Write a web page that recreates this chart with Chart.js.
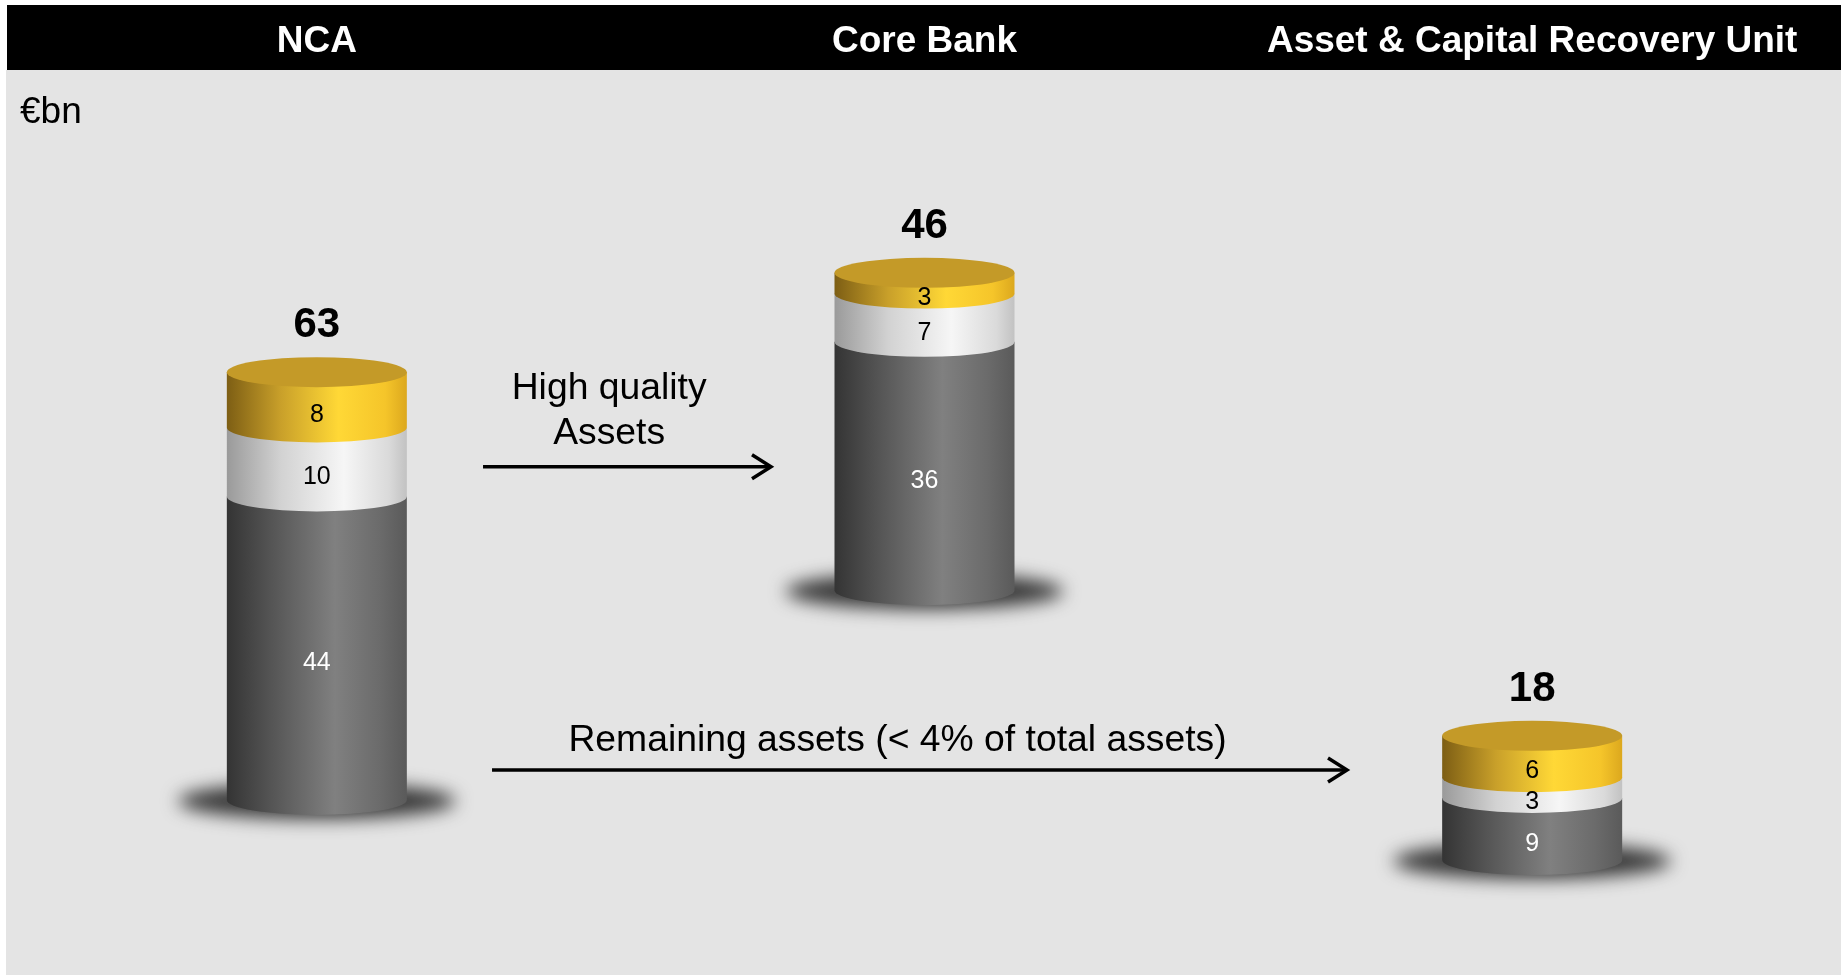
<!DOCTYPE html>
<html>
<head>
<meta charset="utf-8">
<title>NCA split</title>
<script src="https://cdn.jsdelivr.net/npm/chart.js@4.4.1/dist/chart.umd.min.js"></script>
<style>
  html, body { margin: 0; padding: 0; background: #fff; }
  canvas { display: block; }
</style>
</head>
<body>
<canvas id="splitChart" width="1841" height="975"></canvas>
<script>
// €bn per unit
const categories = ['NCA', 'Core Bank', 'Asset & Capital Recovery Unit'];
const greyAssets = [44, 36, 9];
const lightAssets = [10, 7, 3];
const goldAssets = [8, 3, 6];
const totals = [63, 46, 18];
// level each cylinder stands on (kept above zero so floating bars don't cross it)
const baseLevel = [20, 50.4, 11.3];

const FONT = "'Liberation Sans', Arial, sans-serif";
const RY = 15; // ellipse half-height of the cylinder faces

// flow arrows between the units: x in category index, y on the value scale
const flows = [
  { x0: 0.2735, x1: 0.7474, y: 68.3, textX: 0.481, lines: [['High quality', 78.1], ['Assets', 71.6]] },
  { x0: 0.2883, x1: 1.6953, y: 24.35, textX: 0.9556, lines: [['Remaining assets (< 4% of total assets)', 27.1]] }
];

const series = [
  { label: 'grey', values: greyAssets, text: '#ffffff',
    stops: [[0, '#343434'], [0.25, '#555555'], [0.6, '#808080'], [0.85, '#6b6b6b'], [1, '#5a5a5a']] },
  { label: 'light', values: lightAssets, text: '#000000',
    stops: [[0, '#9a9a9a'], [0.3, '#d2d2d2'], [0.65, '#f6f6f6'], [0.9, '#dadada'], [1, '#c2c2c2']] },
  { label: 'gold', values: goldAssets, text: '#000000',
    stops: [[0, '#7d5e14'], [0.3, '#c9a02a'], [0.62, '#ffd836'], [0.88, '#f5c52a'], [1, '#dca81e']] }
];

// stack the segments by hand as floating bars
const datasets = series.map((s, k) => ({
  label: s.label,
  data: s.values.map((v, i) => {
    let start = baseLevel[i];
    for (let j = 0; j < k; j++) start += series[j].values[i];
    return [start, start + v];
  }),
  backgroundColor: 'rgba(0,0,0,0)',
  borderWidth: 0,
  barThickness: 180,
  grouped: false
}));

const backdrop = {
  id: 'backdrop',
  beforeDraw(chart) {
    const ctx = chart.ctx;
    const x = chart.scales.x;
    ctx.save();
    ctx.fillStyle = '#ffffff';
    ctx.fillRect(0, 0, chart.width, chart.height);
    ctx.fillStyle = '#e4e4e4';
    ctx.fillRect(6, 70, chart.width - 6, chart.height - 70);
    ctx.fillStyle = '#000000';
    ctx.fillRect(7, 5, chart.width - 7, 65);

    ctx.fillStyle = '#ffffff';
    ctx.font = 'bold 37px ' + FONT;
    ctx.textAlign = 'center';
    ctx.textBaseline = 'alphabetic';
    chart.data.labels.forEach((lab, i) => ctx.fillText(lab, x.getPixelForValue(i), 52));

    ctx.fillStyle = '#000000';
    ctx.font = '37px ' + FONT;
    ctx.textAlign = 'left';
    ctx.fillText('€bn', 20, 123);
    ctx.restore();
  }
};

const cylinders = {
  id: 'cylinders',
  beforeDatasetsDraw(chart) {
    const ctx = chart.ctx;
    const metas = chart.data.datasets.map((d, k) => chart.getDatasetMeta(k));
    ctx.save();
    // soft shadow under each cylinder
    metas[0].data.forEach(el => {
      const b = el.getProps(['x', 'base', 'width'], true);
      ctx.save();
      ctx.filter = 'blur(9px)';
      ctx.fillStyle = 'rgba(45,45,45,0.95)';
      ctx.beginPath();
      ctx.ellipse(b.x, b.base + 1, b.width * 0.77, 18, 0, 0, Math.PI * 2);
      ctx.fill();
      ctx.restore();
    });
    // body segments, bottom to top
    metas.forEach((meta, k) => {
      meta.data.forEach(el => {
        const b = el.getProps(['x', 'y', 'base', 'width'], true);
        const left = b.x - b.width / 2, right = b.x + b.width / 2;
        const g = ctx.createLinearGradient(left, 0, right, 0);
        series[k].stops.forEach(([o, c]) => g.addColorStop(o, c));
        ctx.beginPath();
        ctx.moveTo(left, b.y);
        ctx.lineTo(right, b.y);
        ctx.lineTo(right, b.base);
        ctx.ellipse(b.x, b.base, b.width / 2, RY, 0, 0, Math.PI, false);
        ctx.closePath();
        ctx.fillStyle = g;
        ctx.fill();
      });
    });
    // lid
    metas[metas.length - 1].data.forEach(el => {
      const b = el.getProps(['x', 'y', 'width'], true);
      ctx.beginPath();
      ctx.ellipse(b.x, b.y, b.width / 2, RY, 0, 0, Math.PI * 2);
      ctx.fillStyle = '#c49a28';
      ctx.fill();
    });
    ctx.restore();
  },
  afterDatasetsDraw(chart) {
    const ctx = chart.ctx;
    const xs = chart.scales.x, ys = chart.scales.y;
    const metas = chart.data.datasets.map((d, k) => chart.getDatasetMeta(k));
    ctx.save();
    ctx.textAlign = 'center';
    ctx.textBaseline = 'middle';
    ctx.font = '25px ' + FONT;
    metas.forEach((meta, k) => {
      meta.data.forEach((el, i) => {
        const b = el.getProps(['x', 'y', 'base'], true);
        ctx.fillStyle = series[k].text;
        ctx.fillText(String(series[k].values[i]), b.x, (b.y + b.base) / 2 + RY);
      });
    });
    // totals above the lid
    ctx.fillStyle = '#000000';
    ctx.font = 'bold 42px ' + FONT;
    ctx.textBaseline = 'alphabetic';
    metas[metas.length - 1].data.forEach((el, i) => {
      const b = el.getProps(['x', 'y'], true);
      ctx.fillText(String(totals[i]), b.x, b.y - RY - 20);
    });

    // flow arrows and captions
    ctx.strokeStyle = '#000000';
    ctx.lineWidth = 3.5;
    ctx.lineCap = 'butt';
    ctx.font = '37.3px ' + FONT;
    flows.forEach(f => {
      const x0 = xs.getPixelForValue(f.x0), x1 = xs.getPixelForValue(f.x1);
      const y = ys.getPixelForValue(f.y);
      ctx.beginPath();
      ctx.moveTo(x0, y);
      ctx.lineTo(x1 - 2, y);
      ctx.stroke();
      ctx.beginPath();
      ctx.moveTo(x1 - 19, y - 12);
      ctx.lineTo(x1, y);
      ctx.lineTo(x1 - 19, y + 12);
      ctx.stroke();
      const tx = xs.getPixelForValue(f.textX);
      f.lines.forEach(([txt, ty]) => ctx.fillText(txt, tx, ys.getPixelForValue(ty)));
    });
    ctx.restore();
  }
};

new Chart(document.getElementById('splitChart'), {
  type: 'bar',
  data: { labels: categories, datasets: datasets },
  options: {
    responsive: false,
    animation: false,
    devicePixelRatio: 1,
    layout: { padding: { left: 13, right: 5, top: 179, bottom: 37 } },
    plugins: { legend: { display: false }, tooltip: { enabled: false } },
    scales: {
      x: { display: false, offset: true },
      y: { display: false, min: 0, max: 110 }
    }
  },
  plugins: [backdrop, cylinders]
});
</script>
</body>
</html>
